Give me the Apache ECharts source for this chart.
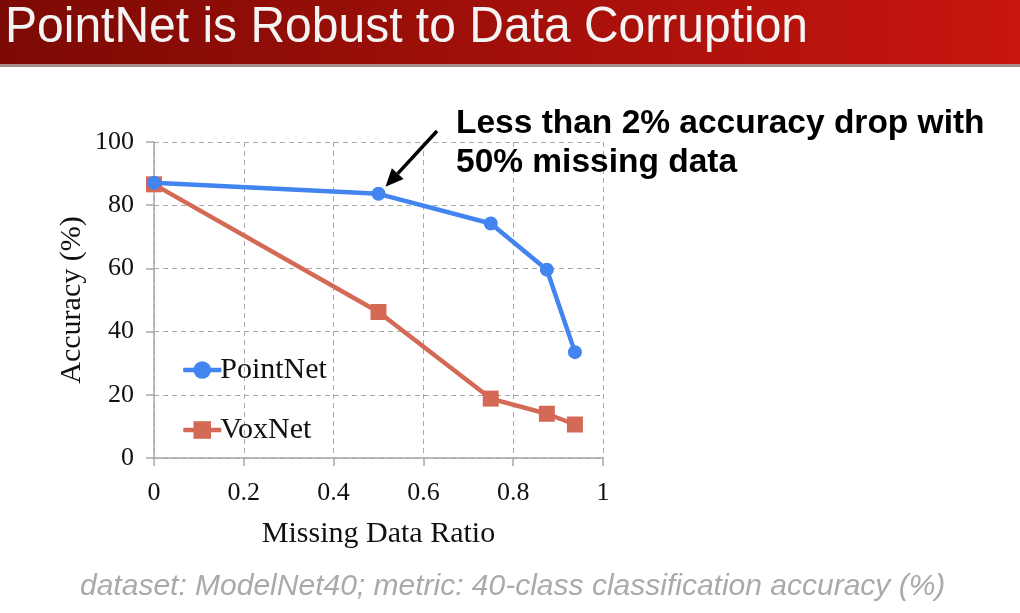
<!DOCTYPE html>
<html>
<head>
<meta charset="utf-8">
<script src="https://cdn.jsdelivr.net/npm/echarts@6/dist/echarts.min.js"></script>
<style>
html,body{margin:0;padding:0;background:#fff;}
#c{width:1020px;height:613px;}
</style>
</head>
<body>
<div id="c"></div>
<script>
var titleText = 'PointNet is Robust to Data Corruption';
var noteLines = ['Less than 2% accuracy drop with', '50% missing data'];
var footText = 'dataset: ModelNet40; metric: 40-class classification accuracy (%)';
var xTicks = [0, 0.2, 0.4, 0.6, 0.8, 1];
var missingRatio = [0, 0.5, 0.75, 0.875, 0.9375];
var pointNetAcc = [87.1, 83.6, 74.2, 59.6, 33.5];
var voxNetAcc = [86.6, 46.2, 18.8, 14.0, 10.6];

var chart = echarts.init(document.getElementById('c'));
function pairs(xs, ys){ return xs.map(function(x,i){ return [x, ys[i]]; }); }

var serif = '"Liberation Serif", "Times New Roman", serif';
var sans = '"Liberation Sans", Arial, Helvetica, sans-serif';

chart.setOption({
  animation: false,
  grid: {left: 154, right: 417, top: 142, bottom: 155},
  legend: {
    orient: 'vertical', left: 176, top: 350, itemGap: 30,
    itemWidth: 38, itemHeight: 22,
    lineStyle: {width: 4.5},
    textStyle: {fontFamily: serif, fontSize: 30, color: '#111', padding: [0,0,0,-6]},
    data: ['PointNet', 'VoxNet']
  },
  xAxis: {
    type: 'value', min: 0, max: 1, interval: 0.2,
    name: 'Missing Data Ratio', nameLocation: 'middle', nameGap: 61,
    nameTextStyle: {fontFamily: serif, fontSize: 30, color: '#111'},
    axisLine: {show: true, lineStyle: {color: '#a8a8a8', width: 1.5}},
    axisTick: {show: true, length: 8, lineStyle: {color: '#a8a8a8', width: 1.5}},
    axisLabel: {fontFamily: serif, fontSize: 26, color: '#111', margin: 22,
      formatter: function(v){ return String(+v.toFixed(1)); }},
    splitLine: {show: true, lineStyle: {color: '#a8a8a8', type: [5,4], width: 1}}
  },
  yAxis: {
    type: 'value', min: 0, max: 100, interval: 20,
    name: 'Accuracy (%)', nameLocation: 'middle', nameGap: 67, nameRotate: 90,
    nameTextStyle: {fontFamily: serif, fontSize: 30, color: '#111'},
    axisLine: {show: true, lineStyle: {color: '#a8a8a8', width: 1.5}},
    axisTick: {show: true, length: 8, lineStyle: {color: '#a8a8a8', width: 1.5}},
    axisLabel: {fontFamily: serif, fontSize: 26, color: '#111', margin: 20},
    splitLine: {show: true, lineStyle: {color: '#a8a8a8', type: [5,4], width: 1}}
  },
  series: [
    {
      name: 'PointNet', type: 'line', data: pairs(missingRatio, pointNetAcc),
      symbol: 'circle', symbolSize: 14, z: 3,
      lineStyle: {color: '#4285f0', width: 4.5},
      itemStyle: {color: '#4285f0'}
    },
    {
      name: 'VoxNet', type: 'line', data: pairs(missingRatio, voxNetAcc),
      symbol: 'rect', symbolSize: 16, z: 2,
      lineStyle: {color: '#d46a56', width: 4.5},
      itemStyle: {color: '#d46a56'}
    }
  ]
});

var target = chart.convertToPixel({gridIndex: 0}, [missingRatio[1], pointNetAcc[1]]);
var tip = [target[0] + 7, target[1] - 7];
var tail = [437, 131];
var ang = Math.atan2(tip[1] - tail[1], tip[0] - tail[0]);
var hl = 18, hw = 8;
var bx = tip[0] - hl * Math.cos(ang), by = tip[1] - hl * Math.sin(ang);
var px = -Math.sin(ang) * hw, py = Math.cos(ang) * hw;

chart.setOption({
  graphic: [
    {type: 'rect', shape: {x: 0, y: 0, width: 1020, height: 64}, z: 10,
      style: {fill: new echarts.graphic.LinearGradient(0, 0, 1, 0, [
        {offset: 0, color: '#7c0a04'}, {offset: 1, color: '#c8150f'}])}},
    {type: 'rect', shape: {x: 0, y: 64, width: 1020, height: 3}, z: 10,
      style: {fill: '#a58a86'}},
    {type: 'text', x: 5, y: 3, scaleX: 0.96, z: 11,
      style: {text: titleText, fill: '#f4f4f4', font: '50px ' + sans}},
    {type: 'text', x: 456, y: 104, scaleX: 0.985, z: 11,
      style: {text: noteLines.join('\n'), fill: '#000', font: 'bold 34px ' + sans, lineHeight: 39}},
    {type: 'line', z: 11, shape: {x1: tail[0], y1: tail[1], x2: bx, y2: by},
      style: {stroke: '#000', lineWidth: 3.5}},
    {type: 'polygon', z: 11, shape: {points: [[tip[0], tip[1]], [bx + px, by + py], [bx - px, by - py]]},
      style: {fill: '#000'}},
    {type: 'text', x: 80, y: 572, z: 11,
      style: {text: footText, fill: '#aaaaaa', font: 'italic 30px ' + sans}}
  ]
});
</script>
</body>
</html>
